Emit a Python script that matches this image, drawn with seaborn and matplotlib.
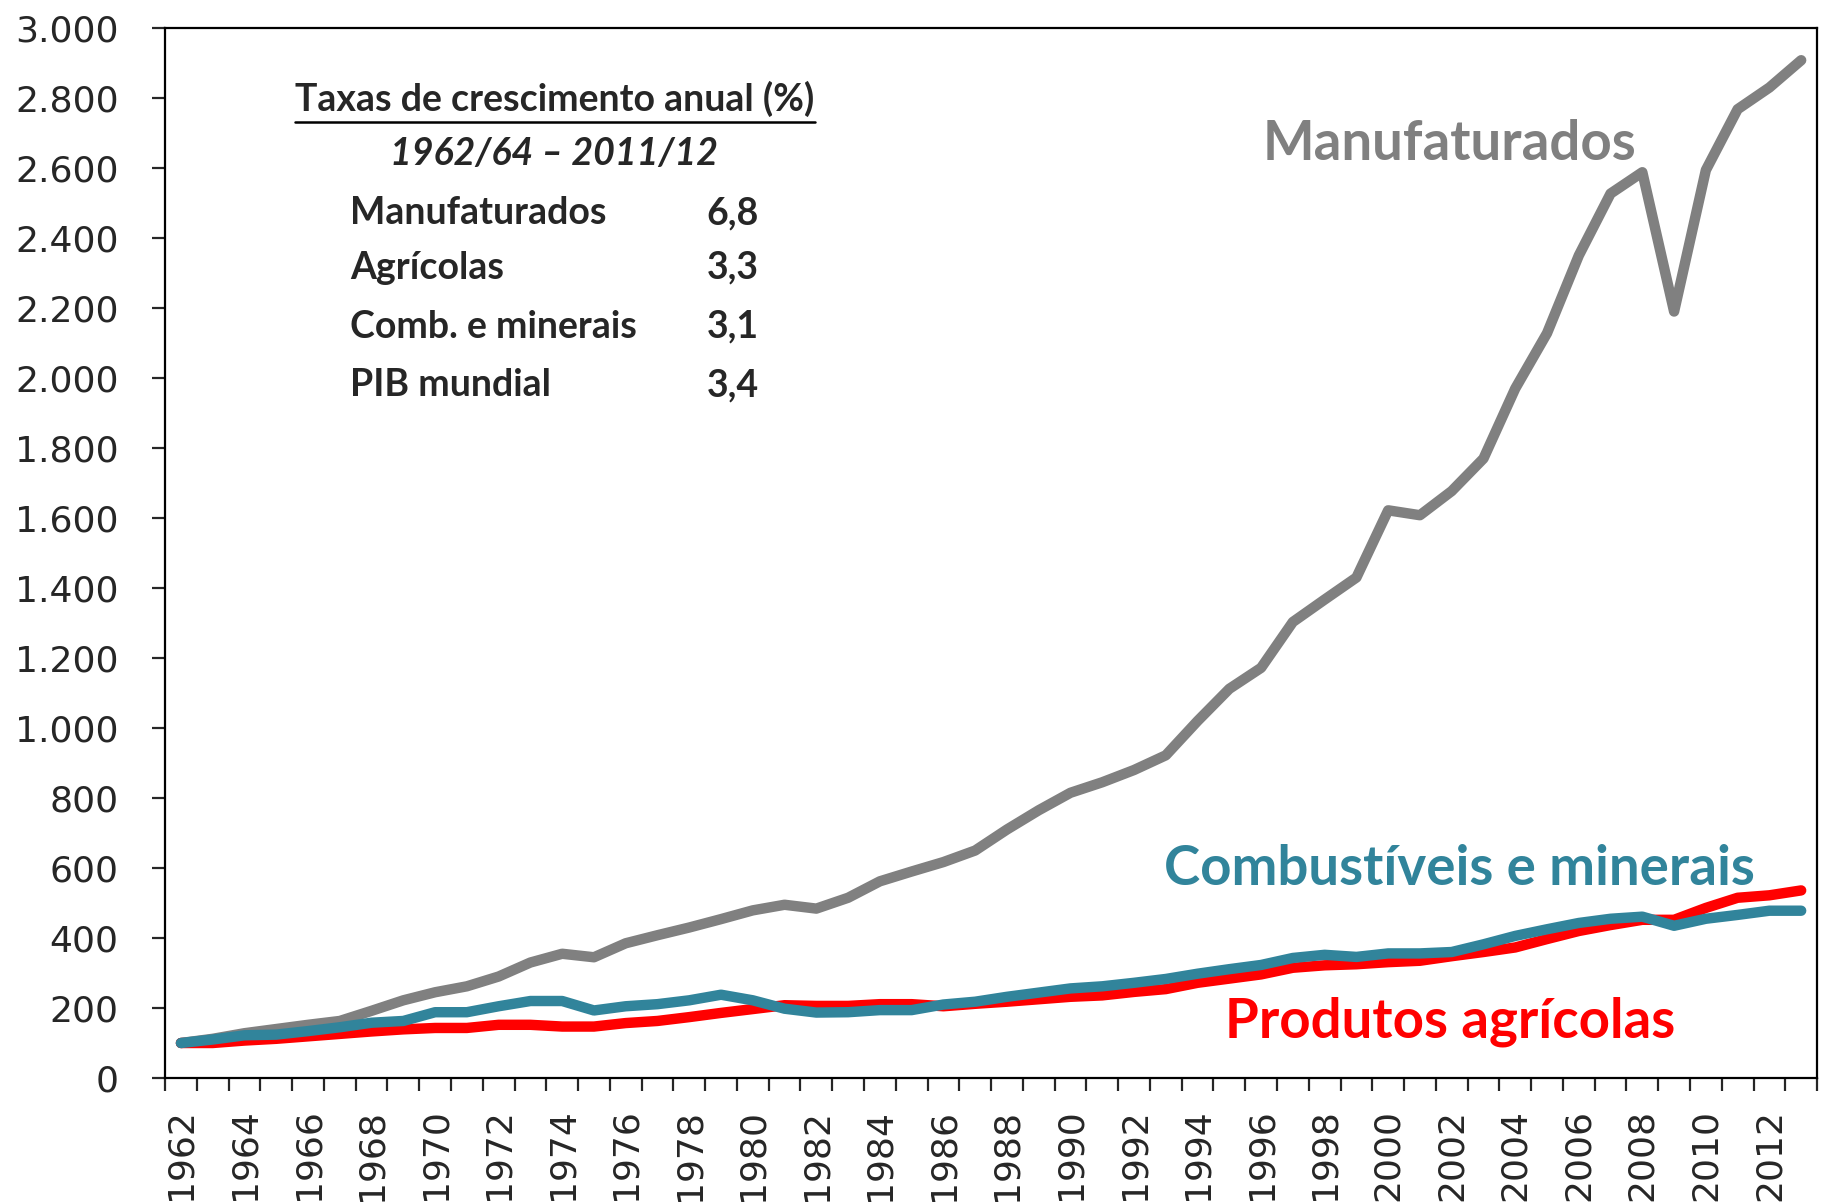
import matplotlib

matplotlib.use("Agg")
import matplotlib.pyplot as plt
import matplotlib.ticker as mticker
import pandas as pd
import seaborn as sns
from matplotlib.lines import Line2D

# series (index 100 in 1962/64)
years = list(range(1962, 2014))
manufaturados = [
    100, 112, 128, 140, 152, 163, 192, 222, 245, 262,
    290, 330, 355, 345, 385, 408, 430, 454, 479, 495,
    484, 515, 562, 590, 617, 650, 710, 765, 815, 845,
    880, 922, 1020, 1112, 1172, 1303, 1367, 1430, 1622, 1608,
    1677, 1770, 1970, 2128, 2350, 2527, 2588, 2190, 2594, 2768,
    2830, 2908,
]
agricolas = [
    100, 100, 107, 112, 119, 126, 133, 139, 143, 143,
    152, 152, 147, 147, 157, 163, 174, 186, 197, 208,
    206, 206, 211, 211, 205, 212, 218, 225, 232, 236,
    246, 254, 272, 284, 296, 315, 322, 325, 331, 335,
    348, 360, 373, 397, 420, 437, 452, 452, 486, 515,
    522, 536,
]
combustiveis = [
    100, 110, 122, 124, 134, 145, 158, 163, 188, 188,
    205, 220, 220, 193, 205, 211, 222, 238, 222, 198,
    187, 188, 194, 194, 210, 218, 232, 244, 256, 262,
    272, 283, 298, 311, 323, 343, 352, 346, 356, 356,
    360, 382, 406, 425, 443, 455, 461, 435, 455, 466,
    478, 478,
]

series_names = ["Manufaturados", "Produtos agrícolas", "Combustíveis e minerais"]
colors = {
    "Manufaturados": "#808080",
    "Produtos agrícolas": "#FF0000",
    "Combustíveis e minerais": "#31849B",
}

# inset table
inset_title = "Taxas de crescimento anual (%)"
inset_period = "1962/64 – 2011/12"
inset_labels = ["Manufaturados", "Agrícolas", "Comb. e minerais", "PIB mundial"]
inset_values = ["6,8", "3,3", "3,1", "3,4"]

y_ticks = list(range(0, 3001, 200))

data = pd.concat(
    [
        pd.DataFrame({"ano": years, "valor": manufaturados, "serie": series_names[0]}),
        pd.DataFrame({"ano": years, "valor": agricolas, "serie": series_names[1]}),
        pd.DataFrame({"ano": years, "valor": combustiveis, "serie": series_names[2]}),
    ]
)

sns.set_style("ticks")
plt.rcParams["font.family"] = ["DejaVu Sans"]

fig, ax = plt.subplots(figsize=(18.26, 12.03), dpi=100)
fig.subplots_adjust(left=0.0904, right=0.9951, bottom=0.1039, top=0.9767)

sns.lineplot(
    data=data, x="ano", y="valor", hue="serie", hue_order=series_names,
    palette=colors, linewidth=7.5, legend=False, ax=ax,
    solid_capstyle="round", solid_joinstyle="round",
)

# axes limits and frame
ax.set_xlim(years[0] - 0.5, years[-1] + 0.5)
ax.set_ylim(0, 3000)
for side in ["left", "right", "top", "bottom"]:
    ax.spines[side].set_visible(True)
    ax.spines[side].set_linewidth(1.6)
    ax.spines[side].set_color("black")
ax.set_xlabel("")
ax.set_ylabel("")

# y axis
ax.yaxis.set_major_locator(mticker.FixedLocator(y_ticks))
ax.set_yticklabels([f"{v:,}".replace(",", ".") for v in y_ticks])
ax.tick_params(axis="y", which="major", length=9.5, width=1.6, pad=24, labelsize=26)

# x axis: ticks between categories, labels on even years
ax.xaxis.set_major_locator(mticker.FixedLocator([y - 0.5 for y in years] + [years[-1] + 0.5]))
ax.xaxis.set_major_formatter(mticker.NullFormatter())
label_years = years[::2]
ax.xaxis.set_minor_locator(mticker.FixedLocator(label_years))
ax.xaxis.set_minor_formatter(mticker.FixedFormatter([str(y) for y in label_years]))
ax.tick_params(axis="x", which="major", length=9.5, width=1.6)
ax.tick_params(axis="x", which="minor", length=0, pad=22, labelsize=26, labelrotation=90)

# series labels
big = {"family": "Lato", "weight": "bold", "fontsize": 39.3}
ax.text(0.7776, 0.8743, "Manufaturados", color=colors["Manufaturados"],
        ha="center", va="baseline", transform=ax.transAxes, **big)
ax.text(0.7833, 0.1838, "Combustíveis e minerais", color=colors["Combustíveis e minerais"],
        ha="center", va="baseline", transform=ax.transAxes, **big)
ax.text(0.7776, 0.0390, "Produtos agrícolas", color=colors["Produtos agrícolas"],
        ha="center", va="baseline", transform=ax.transAxes, **big)

# inset table
small = {"family": "Lato", "weight": "bold", "fontsize": 27}
title = ax.text(0.2361, 0.921, inset_title, ha="center", va="baseline",
                transform=ax.transAxes, **small)
ax.text(0.2355, 0.8695, inset_period, ha="center", va="baseline", style="italic",
        transform=ax.transAxes, **small)
row_y = [0.8133, 0.7610, 0.7048, 0.6495]
for label, value, y in zip(inset_labels, inset_values, row_y):
    ax.text(0.112, y, label, ha="left", va="baseline", transform=ax.transAxes, **small)
    ax.text(0.3595, y, value, ha="right", va="baseline", transform=ax.transAxes, **small)

# underline the inset title
fig.canvas.draw()
bb = title.get_window_extent().transformed(fig.transFigure.inverted())
y_line = bb.y0 + 0.25 * (bb.y1 - bb.y0) - 0.012
fig.add_artist(Line2D([bb.x0, bb.x1], [y_line, y_line], color="black", linewidth=1.8))

fig.savefig("out.png", dpi=100)
